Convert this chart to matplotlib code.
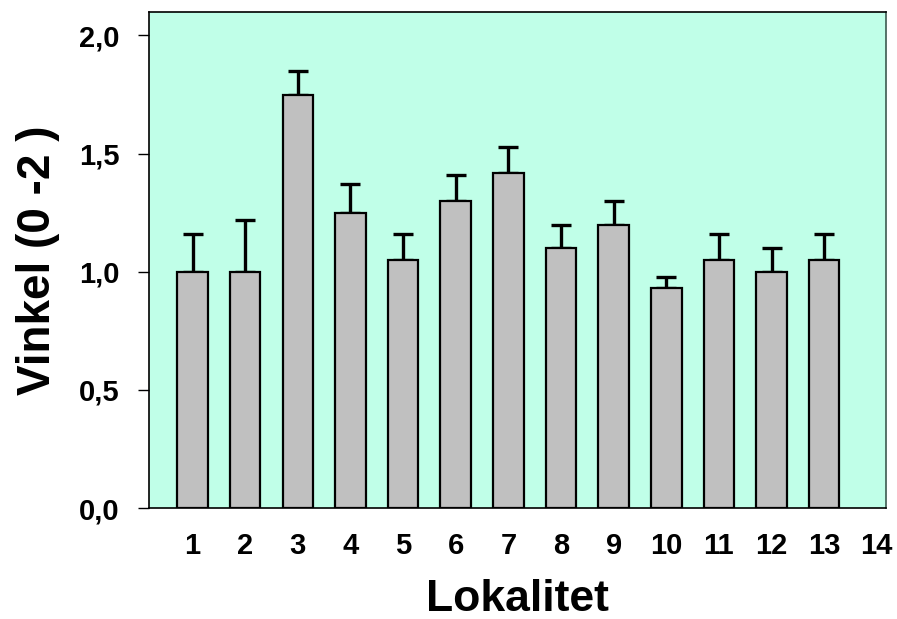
import numpy as np
import matplotlib
matplotlib.use("Agg")
import matplotlib.pyplot as plt

plt.rcParams['font.family'] = ['Liberation Sans', 'DejaVu Sans']
plt.rcParams['font.weight'] = 'bold'

# data
lokalitet = [1, 2, 3, 4, 5, 6, 7, 8, 9, 10, 11, 12, 13]
vinkel = [1.00, 1.00, 1.75, 1.25, 1.05, 1.30, 1.42, 1.10, 1.20, 0.93, 1.05, 1.00, 1.05]
feil = [0.16, 0.22, 0.10, 0.12, 0.11, 0.11, 0.11, 0.10, 0.10, 0.05, 0.11, 0.10, 0.11]
xtick_labels = [str(i) for i in range(1, 15)]
ytick_vals = [0.0, 0.5, 1.0, 1.5, 2.0]
ytick_labels = ['0,0', '0,5', '1,0', '1,5', '2,0']

fig = plt.figure(figsize=(8.97, 6.19), dpi=100)
ax = fig.add_axes([0.166, 0.179, 0.822, 0.802])
ax.set_facecolor('#C0FFE8')

ax.bar(lokalitet, vinkel, width=0.58, color='#C0C0C0', edgecolor='black',
       linewidth=1.6, zorder=2)
ax.errorbar(lokalitet, vinkel, yerr=[np.zeros(len(feil)), feil], fmt='none',
            ecolor='black', elinewidth=2.4, capsize=7, capthick=2.4, zorder=1)

ax.set_xlim(0.17, 14.18)
ax.set_ylim(0, 2.1)
ax.set_xticks(range(1, 15))
ax.set_xticklabels(xtick_labels, fontsize=21, fontweight='bold')
ax.set_yticks(ytick_vals)
ax.set_yticklabels(ytick_labels, fontsize=21, fontweight='bold')
ax.tick_params(axis='x', length=0, pad=17)
ax.tick_params(axis='y', length=8, width=1, pad=13)

for s in ax.spines.values():
    s.set_linewidth(1.2)
    s.set_color('black')
ax.spines['right'].set_color('#3d5a50')

ax.set_xlabel('Lokalitet', fontsize=32, fontweight='bold', labelpad=14)
ax.set_ylabel('Vinkel (0 -2 )', fontsize=33, fontweight='bold', labelpad=14)

fig.savefig('out.png', dpi=100)
